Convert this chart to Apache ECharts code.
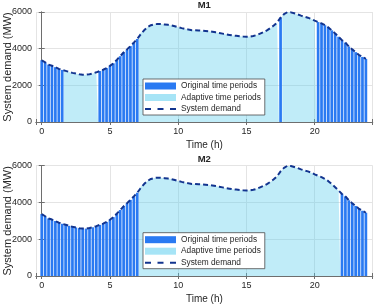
<!DOCTYPE html>
<html><head><meta charset="utf-8">
<script src="https://cdn.jsdelivr.net/npm/echarts@6/dist/echarts.min.js"></script>
<style>html,body{margin:0;padding:0;background:#fff}#c{width:374px;height:305px}</style>
</head><body><div id="c"></div>
<script>
// ---- data ----
const stepHours = 0.25;
const demand = [
  3370,3250,3130,3070,2990,2900,2840,2790,2730,2680,2640,2600,
  2580,2580,2610,2650,2710,2780,2850,2940,3060,3200,3390,3590,
  3790,3960,4140,4330,4530,4780,5000,5170,5280,5330,5350,5340,
  5320,5300,5270,5220,5170,5120,5080,5040,5010,5000,4990,4980,
  4970,4950,4920,4890,4860,4820,4780,4750,4720,4700,4680,4660,
  4650,4660,4690,4740,4820,4900,5000,5120,5260,5430,5690,5880,
  5990,5980,5930,5870,5800,5740,5690,5620,5530,5450,5380,5280,
  5160,5000,4830,4650,4460,4330,4120,3960,3810,3650,3550,3440
];
const m1Original = [[0,1.5],[4.25,7],[17.5,17.5],[20.25,23.75]];
const m2Original = [[0,7],[22,23.75]];
const xTickLabels = [0,5,10,15,20];
const yTickLabels = [0,2000,4000,6000];
const panelTitles = ['M1','M2'];
const seriesNames = ['Original time periods','Adaptive time periods','System demand'];

// ---- build ----
const hours = demand.map((_, i) => i * stepHours);
const inRanges = (t, rs) => rs.some(r => t >= r[0] - 1e-9 && t <= r[1] + 1e-9);

function origData(rs){
  const out = [];
  hours.forEach((t,i)=>{ if (inRanges(t,rs)) out.push([t, demand[i]]); });
  return out;
}
function adaptiveData(rs){
  const out = [];
  const n = hours.length;
  for (let i=0;i<n;i++){
    const t = hours[i];
    if (inRanges(t,rs)) continue;
    const prevOrig = i===0 || inRanges(hours[i-1],rs);
    const nextOrig = i===n-1 || inRanges(hours[i+1],rs);
    if (prevOrig) out.push([t - stepHours/2, demand[i]]);
    out.push([t, demand[i]]);
    if (nextOrig) { out.push([t + stepHours/2, demand[i]]); out.push([t + stepHours/2, null]); }
  }
  return out;
}

const FONT = 'Liberation Sans, Arial, Helvetica, sans-serif';
const TXT = '#262626';
const AX = '#6e6e6e';
const LIGHT = 'rgba(92,206,238,0.55)';
const DARK = '#2a7af2';
const NAVY = '#12348f';
const XMIN = -0.42, XMAX = 24.25;
const gridsPos = [{top:12,height:110},{top:165.7,height:110.3}];
const panels = [m1Original, m2Original];
const dashIcon = 'path://M0,0h0.01v0.01h-0.01z M30.99,6.99h0.01v0.01h-0.01z M0,2.5h6v2h-6z M12.5,2.5h6v2h-6z M25,2.5h6v2h-6z';

const grid=[], xAxis=[], yAxis=[], series=[], legend=[], title=[];
panels.forEach((rs,g)=>{
  grid.push({left:36, right:1.3, top:gridsPos[g].top, height:gridsPos[g].height, outerBoundsMode:'none', containLabel:false});
  title.push({text:panelTitles[g], left:204.3, top:gridsPos[g].top-11.5, textAlign:'center', padding:0,
    textStyle:{fontFamily:FONT, fontSize:9.5, fontWeight:'bold', color:TXT}});
  xAxis.push({type:'value', gridIndex:g, min:XMIN, max:XMAX, position:'bottom',
    name:'Time (h)', nameLocation:'middle', nameGap:18, nameMoveOverlap:false,
    nameTextStyle:{fontFamily:FONT, fontSize:10, color:TXT},
    axisLine:{show:true, lineStyle:{color:AX, width:1}},
    axisTick:{show:true, inside:true, length:3, lineStyle:{color:AX}},
    axisLabel:{fontFamily:FONT, fontSize:9, color:TXT, margin:5,
      formatter:v => xTickLabels.includes(v) ? String(v) : ''},
    splitLine:{show:true, lineStyle:{color:'#e4e4e4', width:1}}});
  xAxis.push({type:'value', gridIndex:g, min:XMIN, max:XMAX, position:'top',
    axisLine:{show:true, lineStyle:{color:AX, width:1}},
    axisTick:{show:true, inside:true, length:3, lineStyle:{color:AX}},
    axisLabel:{show:false}, splitLine:{show:false}});
  yAxis.push({type:'value', gridIndex:g, min:0, max:6000, interval:2000, position:'left',
    name:'System demand (MW)', nameLocation:'middle', nameGap:22.5, nameMoveOverlap:false,
    nameTextStyle:{fontFamily:FONT, fontSize:11, color:TXT},
    axisLine:{show:true, lineStyle:{color:AX, width:1}},
    axisTick:{show:true, inside:true, length:3, lineStyle:{color:AX}},
    axisLabel:{fontFamily:FONT, fontSize:9, color:TXT, margin:4,
      formatter:v => yTickLabels.includes(v) ? String(v) : ''},
    splitLine:{show:true, lineStyle:{color:'#e4e4e4', width:1}}});
  yAxis.push({type:'value', gridIndex:g, min:0, max:6000, interval:2000, position:'right',
    axisLine:{show:true, lineStyle:{color:AX, width:1}},
    axisTick:{show:true, inside:true, length:3, lineStyle:{color:AX}},
    axisLabel:{show:false}, splitLine:{show:false}});
  const xi = g*2, yi = g*2;
  series.push({name:seriesNames[1], type:'line', xAxisIndex:xi, yAxisIndex:yi,
    data:adaptiveData(rs), symbol:'none', connectNulls:false, z:2,
    lineStyle:{width:0}, itemStyle:{color:LIGHT},
    areaStyle:{color:LIGHT, origin:'start'}, silent:true});
  series.push({name:seriesNames[0], type:'bar', xAxisIndex:xi, yAxisIndex:yi,
    data:origData(rs), barWidth:2.7, z:3, itemStyle:{color:DARK}, silent:true});
  series.push({name:seriesNames[2], type:'line', xAxisIndex:xi, yAxisIndex:yi,
    data:hours.map((t,i)=>[t,demand[i]]), symbol:'none', z:4,
    itemStyle:{color:NAVY},
    lineStyle:{color:NAVY, width:2, type:[5,3]}, silent:true});
  legend.push({orient:'vertical', left:143, top:gridsPos[g].top+67,
    data:[{name:seriesNames[0], icon:'rect'},{name:seriesNames[1], icon:'rect'},{name:seriesNames[2], icon:dashIcon}],
    itemWidth:31, itemHeight:7, itemGap:3.5, padding:[3,4,2,2],
    backgroundColor:'#fff', borderColor:'#4a4a4a', borderWidth:0.8, selectedMode:false,
    textStyle:{fontFamily:FONT, fontSize:8.3, color:TXT}});
});

const chart = echarts.init(document.getElementById('c'), null, {renderer:'canvas'});
chart.setOption({animation:false, backgroundColor:'#fff', grid, xAxis, yAxis, series, legend, title});
</script></body></html>
